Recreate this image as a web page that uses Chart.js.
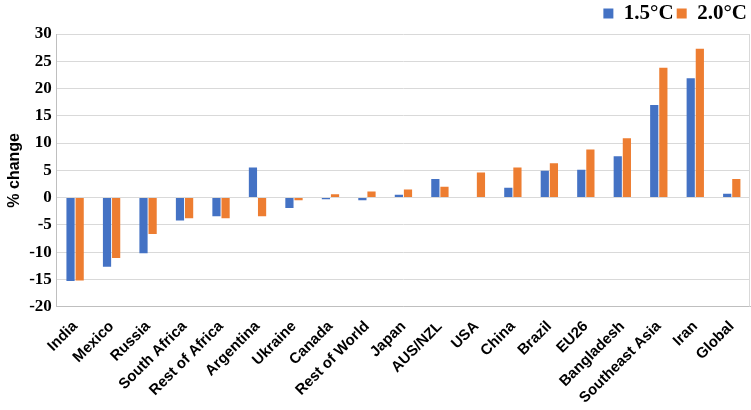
<!DOCTYPE html>
<html>
<head>
<meta charset="utf-8">
<script src="https://cdn.jsdelivr.net/npm/chart.js@4"></script>
<style>
  html, body { margin: 0; padding: 0; background: #fff; }
  #wrap { width: 751px; height: 410px; }
</style>
</head>
<body>
<div id="wrap"><canvas id="myChart"></canvas></div>
<script>
const regions = ["India", "Mexico", "Russia", "South Africa", "Rest of Africa", "Argentina", "Ukraine",
  "Canada", "Rest of World", "Japan", "AUS/NZL", "USA", "China", "Brazil", "EU26", "Bangladesh",
  "Southeast Asia", "Iran", "Global"];
const change15 = [-15.3, -12.7, -10.2, -4.2, -3.4, 5.5, -1.9, -0.3, -0.5, 0.5, 3.4, 0, 1.8, 4.9, 5.1, 7.6, 17.0, 21.9, 0.7];
const change20 = [-15.2, -11.1, -6.7, -3.8, -3.8, -3.4, -0.5, 0.6, 1.1, 1.5, 2.0, 4.6, 5.5, 6.3, 8.8, 10.9, 23.8, 27.3, 3.4];

// right edge of the plot box
const boxLine = {
  id: "boxLine",
  afterDraw(chart) {
    const a = chart.chartArea;
    const ctx = chart.ctx;
    ctx.save();
    ctx.strokeStyle = "#d9d9d9";
    ctx.lineWidth = 1;
    ctx.beginPath();
    ctx.moveTo(a.right - 0.5, a.top);
    ctx.lineTo(a.right - 0.5, a.bottom);
    ctx.stroke();
    ctx.restore();
  }
};

new Chart("myChart", {
  type: "bar",
  data: {
    labels: regions,
    datasets: [{
      label: "1.5°C",
      backgroundColor: "#4472C4",
      data: change15
    }, {
      label: "2.0°C",
      backgroundColor: "#ED7D31",
      data: change20
    }]
  },
  plugins: [boxLine],
  options: {
    responsive: true,
    maintainAspectRatio: false,
    animation: false,
    layout: {padding: {left: 5, right: 1, top: 0, bottom: 0}},
    datasets: {
      bar: {categoryPercentage: 0.5, barPercentage: 0.9}
    },
    plugins: {
      legend: {
        position: "top",
        align: "end",
        labels: {
          boxWidth: 10,
          boxHeight: 10,
          padding: 3,
          color: "#000",
          font: {family: "Liberation Serif", size: 21, weight: "bold"}
        }
      },
      tooltip: {enabled: false}
    },
    scales: {
      x: {
        grid: {display: false},
        border: {color: "#bfbfbf"},
        ticks: {
          maxRotation: 45,
          minRotation: 45,
          autoSkip: false,
          padding: 3,
          color: "#000",
          font: {family: "Liberation Sans", size: 15, weight: "bold"}
        }
      },
      y: {
        min: -20,
        max: 30,
        ticks: {
          stepSize: 5,
          padding: 5,
          color: "#000",
          font: {family: "Liberation Serif", size: 17, weight: "bold"}
        },
        grid: {color: "#d9d9d9", drawTicks: false},
        border: {color: "#bfbfbf"},
        title: {
          display: true,
          text: "% change",
          color: "#000",
          padding: {top: 0, bottom: 0},
          font: {family: "Liberation Sans", size: 16, weight: "bold"}
        }
      }
    }
  }
});
</script>
</body>
</html>
